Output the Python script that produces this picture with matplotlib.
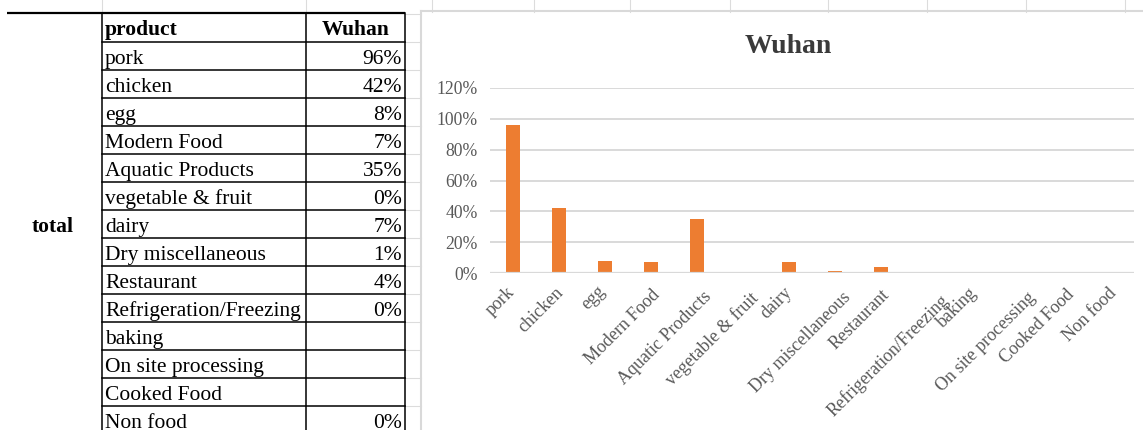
import matplotlib
matplotlib.use("Agg")
import matplotlib.pyplot as plt
from matplotlib.transforms import ScaledTranslation
import numpy as np

plt.rcParams['font.family'] = ['Liberation Serif', 'DejaVu Serif']

# sheet data
products = ['pork', 'chicken', 'egg', 'Modern Food', 'Aquatic Products',
            'vegetable & fruit', 'dairy', 'Dry miscellaneous', 'Restaurant',
            'Refrigeration/Freezing', 'baking', 'On site processing',
            'Cooked Food', 'Non food']
wuhan = [0.96, 0.42, 0.08, 0.07, 0.35, 0.00, 0.07, 0.01, 0.04, 0.00,
         None, None, None, 0.00]
yticks = [0, 0.2, 0.4, 0.6, 0.8, 1.0, 1.2]

W, H = 1143, 430
fig = plt.figure(figsize=(W / 100, H / 100), dpi=100, facecolor='white')

# worksheet layer in pixel coordinates
sheet = fig.add_axes([0, 0, 1, 1])
sheet.set_xlim(0, W)
sheet.set_ylim(H, 0)
sheet.axis('off')

grid_c = '#dcdcdc'
row_h = 28
top = 13
col_x = [102, 306, 405]

# faint excel cell lines outside the table
for x in [102, 306, 432, 534, 630, 730, 828, 927, 1026, 1125]:
    sheet.plot([x, x], [0, 12], color=grid_c, lw=0.8)
for i in range(15):
    y = top + 1 + i * row_h
    sheet.plot([405, 421], [y, y], color=grid_c, lw=0.8)

# table borders
sheet.plot([7, 405], [top, top], color='black', lw=1.6, solid_capstyle='butt')
for x in col_x:
    sheet.plot([x, x], [top, H], color='black', lw=1.1)
for i in range(1, 15):
    y = top + 1 + i * row_h
    sheet.plot([col_x[0], col_x[2]], [y, y], color='black', lw=1.1)

tfs = 15.5
sheet.text(105, top + row_h - 6, 'product', fontsize=tfs, fontweight='bold',
           ha='left', va='baseline')
sheet.text(356, top + row_h - 6, 'Wuhan', fontsize=tfs, fontweight='bold',
           ha='center', va='baseline')
for i, (name, v) in enumerate(zip(products, wuhan)):
    base = top + 1 + (i + 2) * row_h - 6
    sheet.text(105, base, name, fontsize=tfs, ha='left', va='baseline')
    if v is not None:
        sheet.text(402, base, f'{v:.0%}', fontsize=tfs, ha='right', va='baseline')
sheet.text(53, 232, 'total', fontsize=tfs, fontweight='bold',
           ha='center', va='baseline')

# chart frame
sheet.plot([421, 421], [11, H], color='#d9d9d9', lw=1.5)
sheet.plot([421, W], [11, 11], color='#d9d9d9', lw=1.5)
sheet.text(788, 53, 'Wuhan', fontsize=20, fontweight='bold', color='#3a3a3a',
           ha='center', va='baseline')

# bar chart
ax = fig.add_axes([490 / W, (H - 273) / H, 644 / W, 185 / H])
heights = [np.nan if v is None else v for v in wuhan]
xs = np.arange(len(products))
ax.bar(xs, heights, width=0.3, color='#ed7d31', zorder=3)
ax.set_xlim(-0.5, len(products) - 0.5)
ax.set_ylim(0, 1.2)
ax.set_yticks(yticks)
ax.set_yticklabels([f'{t:.0%}' for t in yticks])
ax.yaxis.grid(True, color='#d9d9d9', lw=1.4, zorder=0)
ax.axhline(0, color='#d9d9d9', lw=1.6, zorder=4)
ax.set_facecolor('none')
for s in ax.spines.values():
    s.set_visible(False)
ax.tick_params(axis='y', length=0, pad=9, labelsize=12.7, labelcolor='#595959')
ax.tick_params(axis='x', length=0, pad=12, labelsize=13, labelcolor='#595959')
ax.set_xticks(xs)
ax.set_xticklabels(products, rotation=45, ha='right', va='center',
                   rotation_mode='anchor')
# longer rotated labels sit a little lower and to the right
for lbl in ax.get_xticklabels():
    n = len(lbl.get_text()) - 5
    shift = ScaledTranslation(1.1 * n / 100, -0.45 * n / 100, fig.dpi_scale_trans)
    lbl.set_transform(lbl.get_transform() + shift)

fig.savefig('out.png', dpi=100, facecolor='white')
